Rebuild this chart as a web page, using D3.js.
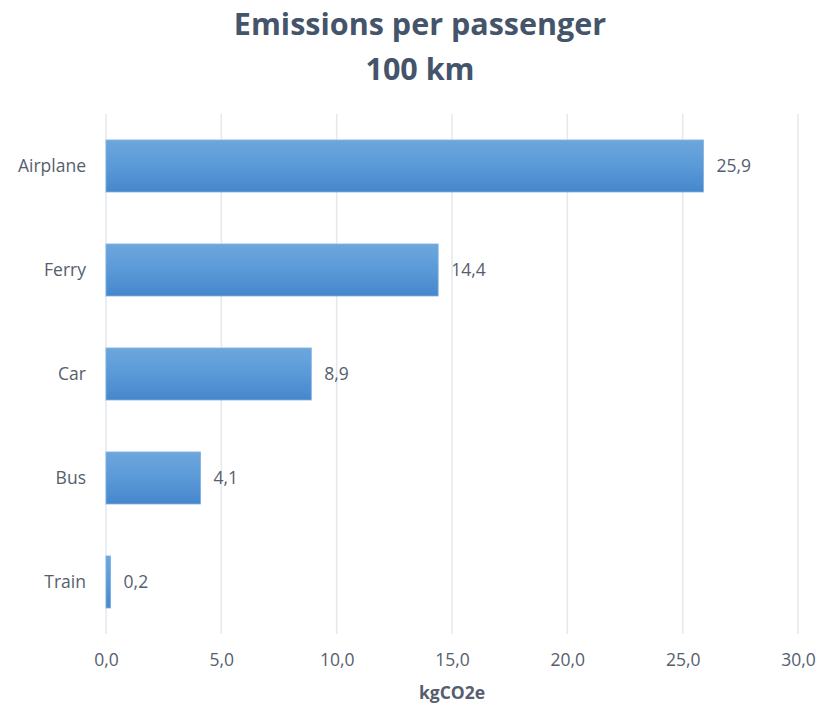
<!DOCTYPE html>
<html>
<head>
<meta charset="utf-8">
<script src="https://cdn.jsdelivr.net/npm/d3@7"></script>
<style>
  body { margin: 0; background: #fff; }
  svg { font-family: "Open Sans", "Noto Sans", sans-serif; }
</style>
</head>
<body>
<svg id="chart" width="821" height="706"></svg>
<script>
// Emissions per passenger per 100 km, horizontal bars
const modes = ["Airplane", "Ferry", "Car", "Bus", "Train"];
const emissions = [25.9, 14.4, 8.9, 4.1, 0.2];
const xTicks = [0, 5, 10, 15, 20, 25, 30];
const titleLines = ["Emissions per passenger", "100 km"];
const xLabel = "kgCO2e";

const svg = d3.select("#chart"),
  margin = {top: 114, right: 23, bottom: 72, left: 106},
  width = +svg.attr("width") - margin.left - margin.right,
  height = +svg.attr("height") - margin.top - margin.bottom;

const fmt = v => d3.format(".1f")(v).replace(".", ",");
const textCol = "#565e6e";
const fs = 17.5;

const defs = svg.append("defs");
const grad = defs.append("linearGradient")
  .attr("id", "barGrad").attr("x1", 0).attr("y1", 0).attr("x2", 0).attr("y2", 1);
grad.append("stop").attr("offset", "0%").attr("stop-color", "#6ea6dd");
grad.append("stop").attr("offset", "50%").attr("stop-color", "#5a9ad8");
grad.append("stop").attr("offset", "100%").attr("stop-color", "#4686cc");

const g = svg.append("g").attr("transform", `translate(${margin.left},${margin.top})`);

const x = d3.scaleLinear().domain([0, 30]).range([0, width]);
const y = d3.scaleBand().domain(modes).range([0, height]).paddingInner(0.5).paddingOuter(0.25);

// gridlines
g.append("g")
  .selectAll("line")
  .data(xTicks)
  .enter().append("line")
  .attr("x1", d => x(d)).attr("x2", d => x(d))
  .attr("y1", 0).attr("y2", height)
  .attr("stroke", "#e3e8ef")
  .attr("stroke-width", 1.5);

// x axis tick labels
const xAxis = g.append("g")
  .attr("transform", `translate(0,${height})`)
  .call(d3.axisBottom(x).tickValues(xTicks).tickFormat(fmt).tickSize(0).tickPadding(20));
xAxis.select(".domain").remove();
xAxis.selectAll("text").attr("fill", textCol).attr("font-size", fs)
  .attr("font-family", "Open Sans, sans-serif");

// y axis labels
const yAxis = g.append("g")
  .call(d3.axisLeft(y).tickSize(0).tickPadding(20));
yAxis.select(".domain").remove();
yAxis.selectAll("text").attr("fill", textCol).attr("font-size", fs)
  .attr("font-family", "Open Sans, sans-serif");

const data = modes.map((m, i) => ({mode: m, value: emissions[i]}));

// bars
g.selectAll("rect.bar")
  .data(data)
  .enter().append("rect")
  .attr("class", "bar")
  .attr("x", x(0))
  .attr("y", d => y(d.mode))
  .attr("width", d => x(d.value) - x(0))
  .attr("height", y.bandwidth())
  .attr("fill", "url(#barGrad)")
  .attr("stroke", "#7fb0e0")
  .attr("stroke-width", 0.8);

// value labels
g.selectAll("text.val")
  .data(data)
  .enter().append("text")
  .attr("class", "val")
  .attr("x", d => x(d.value) + 13)
  .attr("y", d => y(d.mode) + y.bandwidth() / 2)
  .attr("dy", "0.35em")
  .attr("fill", textCol)
  .attr("font-size", fs)
  .text(d => fmt(d.value));

// title
svg.append("g").selectAll("text")
  .data(titleLines)
  .enter().append("text")
  .attr("x", 420)
  .attr("y", (d, i) => 35 + i * 45)
  .attr("text-anchor", "middle")
  .attr("font-weight", "bold")
  .attr("font-size", 30.5)
  .attr("fill", "#44546a")
  .text(d => d);

// x axis label
svg.append("text")
  .attr("x", margin.left + width / 2)
  .attr("y", 699)
  .attr("text-anchor", "middle")
  .attr("font-weight", "bold")
  .attr("font-size", 17.5)
  .attr("fill", textCol)
  .text(xLabel);
</script>
</body>
</html>
